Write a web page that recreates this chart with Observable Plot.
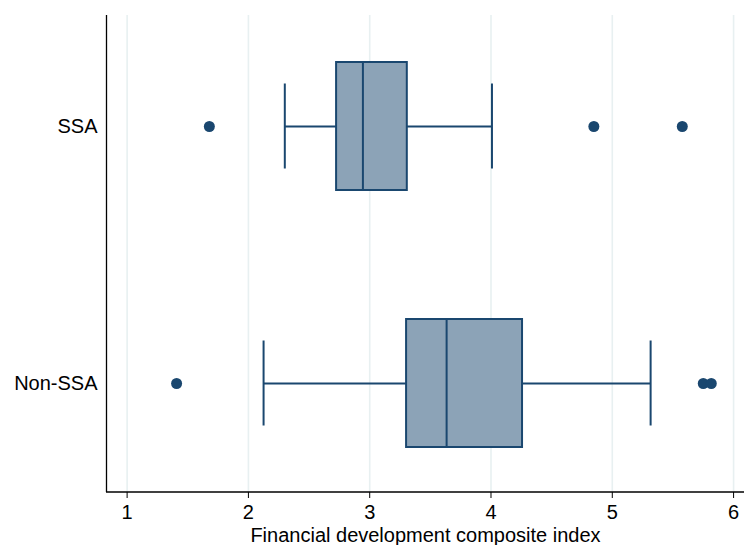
<!DOCTYPE html>
<html>
<head>
<meta charset="utf-8">
<script src="https://cdn.jsdelivr.net/npm/d3@7"></script>
<script src="https://cdn.jsdelivr.net/npm/@observablehq/plot@0.6"></script>
<style>
  html, body { margin: 0; padding: 0; background: #fff; }
  #chart svg { display: block; }
</style>
</head>
<body>
<div id="chart"></div>
<script>
// ---- data ----
const groups = ["SSA", "Non-SSA"];
const whiskerLow  = [2.300, 2.125];
const q1          = [2.727, 3.304];
const median      = [2.944, 3.634];
const q3          = [3.310, 4.260];
const whiskerHigh = [4.008, 5.316];

const outlierGroup = ["SSA", "SSA", "SSA", "Non-SSA", "Non-SSA", "Non-SSA"];
const outlierValue = [1.678, 4.848, 5.577, 1.408, 5.750, 5.816];

const xTicks = [1, 2, 3, 4, 5, 6];
const xDomain = [0.83, 6.09];
const xLabel = "Financial development composite index";

// ---- tables built from the arrays ----
const boxes = groups.map((g, i) => ({
  group: g, lo: whiskerLow[i], q1: q1[i], med: median[i], q3: q3[i], hi: whiskerHigh[i]
}));
const outliers = outlierValue.map((v, i) => ({ group: outlierGroup[i], value: v }));

const navy = "#1a476f";
const boxFill = "#8ca3b7";

const chart = Plot.plot({
  width: 744,
  height: 545,
  marginTop: 15,
  marginLeft: 106,
  marginRight: 0,
  marginBottom: 53,
  style: { fontFamily: "'Liberation Sans', Arial, sans-serif", fontSize: "20px", color: "#000", background: "#fff" },
  x: { domain: xDomain },
  y: { type: "band", domain: groups, paddingInner: 0.502, paddingOuter: 0.179, align: 0.51 },
  marks: [
    Plot.gridX(xTicks, { stroke: "#e8f0f1", strokeOpacity: 1, strokeWidth: 1.6 }),
    Plot.axisX(xTicks, {
      tickSize: 6, tickPadding: 6, fontSize: 20, tickFormat: d3.format("d"),
      label: xLabel, labelAnchor: "center", labelArrow: "none", labelOffset: 49,
      stroke: "#000"
    }),
    Plot.axisY({ tickSize: 0, tickPadding: 9, fontSize: 20, label: null }),
    Plot.ruleX([xDomain[0]], { stroke: "#000", strokeWidth: 1.3 }),
    // whiskers
    Plot.ruleY(boxes, { y: "group", x1: "lo", x2: "q1", stroke: navy, strokeWidth: 2 }),
    Plot.ruleY(boxes, { y: "group", x1: "q3", x2: "hi", stroke: navy, strokeWidth: 2 }),
    Plot.tickX(boxes, { y: "group", x: "lo", stroke: navy, strokeWidth: 2, insetTop: 21.5, insetBottom: 21.5 }),
    Plot.tickX(boxes, { y: "group", x: "hi", stroke: navy, strokeWidth: 2, insetTop: 21.5, insetBottom: 21.5 }),
    // box
    Plot.barX(boxes, { y: "group", x1: "q1", x2: "q3", fill: boxFill, stroke: navy, strokeWidth: 2 }),
    Plot.tickX(boxes, { y: "group", x: "med", stroke: navy, strokeWidth: 2 }),
    // outliers
    Plot.dot(outliers, { y: "group", x: "value", r: 5.5, fill: navy, stroke: "none" })
  ]
});

// bottom axis line across the full width
const svg = d3.select(chart);
const H = 545 - 53;
svg.append("line")
  .attr("x1", 106).attr("x2", 744)
  .attr("y1", H).attr("y2", H)
  .attr("stroke", "#000").attr("stroke-width", 1.3);

document.getElementById("chart").appendChild(chart);
</script>
</body>
</html>
